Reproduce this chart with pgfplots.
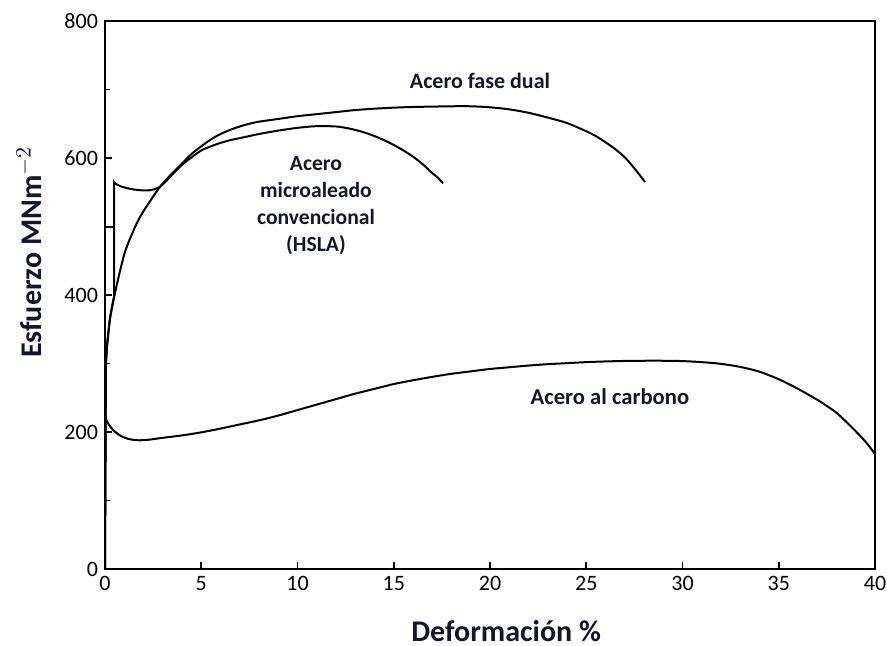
\documentclass[border=0pt]{standalone}
\usepackage{pgfplots}
\pgfplotsset{compat=1.18}
\usepackage{fontspec}
\setmainfont{Carlito}
\definecolor{labelc}{rgb}{0.08,0.08,0.18}
\begin{document}
\begin{tikzpicture}
\useasboundingbox (-52.5pt,-38.5pt) rectangle (391pt,284.5pt);
\begin{axis}[
  at={(0pt,0pt)}, anchor=south west,
  scale only axis, width=385pt, height=274pt,
  xmin=0, xmax=40, ymin=0, ymax=800,
  xtick={0,5,...,40}, ytick={0,200,...,800},
  minor ytick={100,300,500,700},
  tick pos=left, tick align=inside,
  major tick length=3.5pt, minor tick length=2.5pt,
  axis line style={line width=1pt},
  every tick/.style={black, line width=0.8pt},
  tick label style={font=\fontsize{11}{13}\selectfont},
  /pgf/number format/assume math mode=true,
  /pgf/number format/1000 sep={},
  clip=false,
]
% Acero fase dual
\addplot[black, line width=1pt] coordinates {(0,0) (0.05,300) (0.10,324)};
\addplot[black, line width=1pt, smooth] coordinates {
(0.10,324) (0.26,366) (0.52,403) (0.78,435) (1.04,463) (1.4,489) (1.82,514)
(2.34,537) (2.86,558) (3.4,575) (4,592) (4.5,606) (5,617) (5.5,627) (6,635)
(6.5,641) (7,646) (7.5,650) (8,653) (9,657) (10,661) (11,664) (12,667)
(13,670) (14,672) (15,673.5) (16,674.5) (17,675) (18,675.5) (19,675.5)
(20,674) (21,671) (22,666) (23,659) (24,651) (25,639) (25.5,632) (26,623)
(26.5,613) (27,601) (27.5,585) (28.05,565)};
% HSLA
\addplot[black, line width=1pt] coordinates {(0,0) (0.05,300) (0.10,324) (0.26,366) (0.47,398) (0.47,565) (0.52,563)};
\addplot[black, line width=1pt] coordinates {(0,499) (0.47,499)};
\addplot[black, line width=1pt, smooth] coordinates {
(0.52,563) (0.78,559) (1.3,555) (1.82,553) (2.34,553) (2.86,558) (3.4,573)
(4,590) (4.5,601) (5,611) (5.5,617) (6,622) (6.5,626) (7,629) (7.5,632)
(8,635) (9,640) (10,644) (11,646.5) (12,646) (12.5,644) (13,641) (13.5,637)
(14,632) (14.5,626) (15,619) (15.5,611) (16,602) (16.5,591) (17,578)
(17.3,571) (17.56,563)};
% Acero al carbono
\addplot[black, line width=1pt] coordinates {(0,0) (0,222)};
\addplot[black, line width=1pt, smooth] coordinates {
(0,222) (0.15,213) (0.42,203) (0.78,195) (1.2,190) (1.66,188) (2.2,188.5)
(3,191.5) (4,195) (5,199.5) (6,205) (7,211) (8,217) (9,224) (10,232)
(11,240) (12,248) (13,256) (14,263) (15,270) (16,275.5) (17,280.5) (18,285)
(19,288.5) (20,292) (21,294.5) (22,297) (23,299) (24,300.5) (25,302)
(26,303) (27,303.7) (28,304) (29,304) (30,303.5) (31,302) (32,299.5)
(33,295) (34,288) (35,277) (36,263) (37,247) (37.5,238) (38,228) (38.5,215)
(39,201) (39.5,186) (40,168)};
% text labels
\node[labelc, font=\bfseries\fontsize{11}{13}\selectfont] at (axis cs:19.48,712) {Acero fase dual};
\node[labelc, font=\bfseries\fontsize{10.8}{13.5}\selectfont, align=center] at (axis cs:10.96,531) {Acero\\microaleado\\convencional\\(HSLA)};
\node[labelc, font=\bfseries\fontsize{11.3}{13}\selectfont] at (axis cs:26.23,252) {Acero al carbono};
\node[labelc, font=\bfseries\fontsize{15}{17}\selectfont] at (rel axis cs:0.521,0) [yshift=-31pt] {Deformación \%};
\node[labelc, font=\bfseries\fontsize{15}{17}\selectfont, xshift=-38pt, rotate=90] at (rel axis cs:0,0.578) {Esfuerzo MNm$^{-2}$};
\end{axis}
\end{tikzpicture}
\end{document}
